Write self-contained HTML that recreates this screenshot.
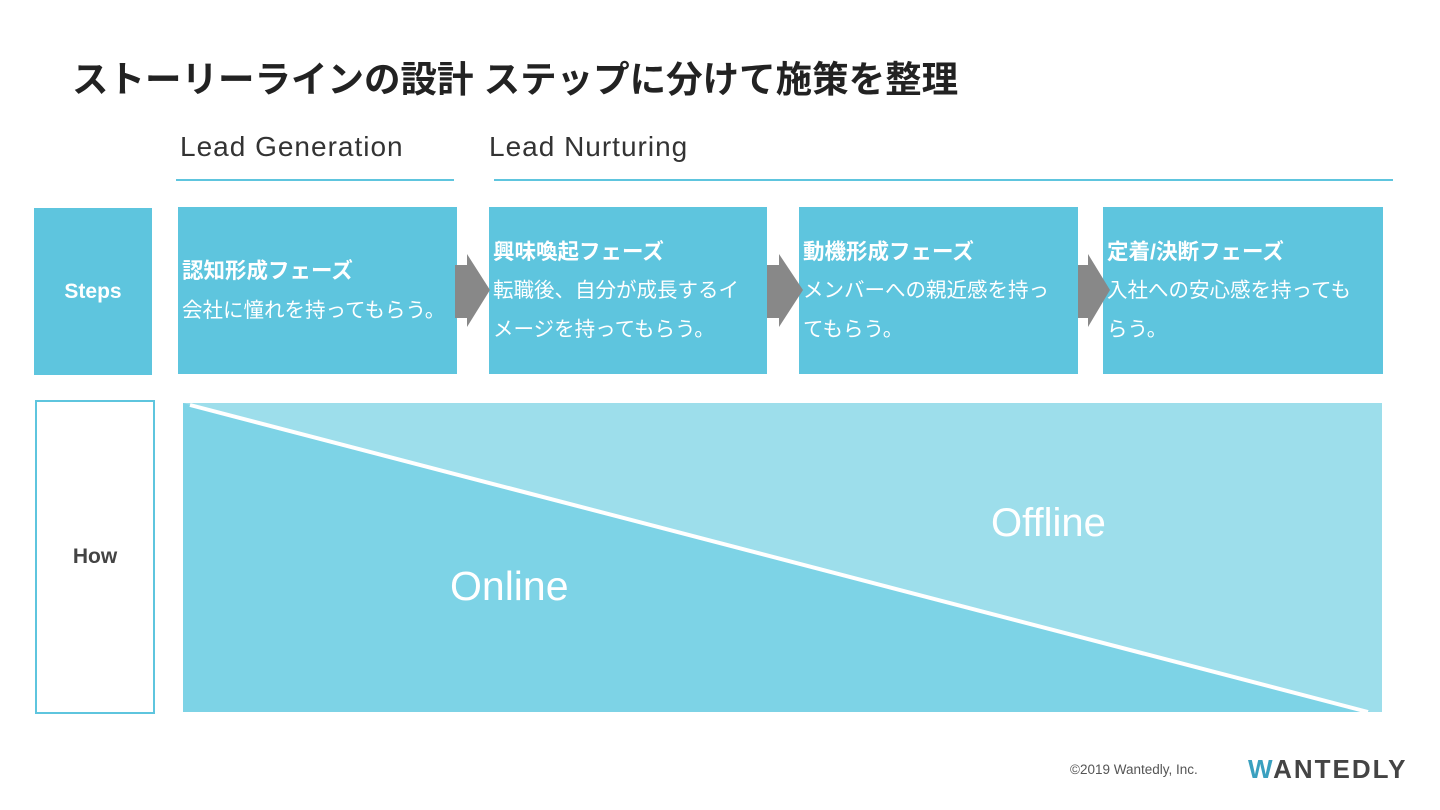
<!DOCTYPE html>
<html><head><meta charset="utf-8"><style>
body{margin:0;width:1440px;height:810px;background:#fff;position:relative;overflow:hidden;font-family:"Liberation Sans","Noto Sans CJK JP",sans-serif}
.a{position:absolute}
.box{position:absolute;background:#5ec5de;color:#fff;top:207px;height:167px}
.box div{position:absolute;left:4px;font-size:20.5px;white-space:nowrap;line-height:40px}
.t{font-weight:bold;font-size:21.5px!important}
</style></head><body>
<div class="a" style="left:72px;top:50px;font-size:36.5px;font-weight:bold;color:#222">ストーリーラインの設計 ステップに分けて施策を整理</div>
<div class="a" style="left:180px;top:131px;font-size:28px;letter-spacing:1px;color:#333">Lead Generation</div>
<div class="a" style="left:489px;top:131px;font-size:28px;letter-spacing:1px;color:#333">Lead Nurturing</div>
<div class="a" style="left:176px;top:179px;width:278px;height:2px;background:#5ec5de"></div>
<div class="a" style="left:494px;top:179px;width:899px;height:2px;background:#5ec5de"></div>
<div class="a" style="left:34px;top:208px;width:118px;height:167px;background:#5ec5de;color:#fff;font-weight:bold;font-size:21px;line-height:167px;text-align:center">Steps</div>
<div class="a" style="left:35px;top:400px;width:116px;height:310px;border:2px solid #5ec5de;color:#444;font-weight:bold;font-size:21px;line-height:310px;text-align:center">How</div>
<div class="box" style="left:178px;width:279px"><div class="t" style="top:44px">認知形成フェーズ</div><div style="top:84px">会社に憧れを持ってもらう。</div></div>
<div class="box" style="left:489px;width:278px"><div class="t" style="top:25px">興味喚起フェーズ</div><div style="top:64px">転職後、自分が成長するイ</div><div style="top:103px">メージを持ってもらう。</div></div>
<div class="box" style="left:799px;width:279px"><div class="t" style="top:25px">動機形成フェーズ</div><div style="top:64px">メンバーへの親近感を持っ</div><div style="top:103px">てもらう。</div></div>
<div class="box" style="left:1103px;width:280px"><div class="t" style="top:25px">定着/決断フェーズ</div><div style="top:64px">入社への安心感を持っても</div><div style="top:103px">らう。</div></div>
<svg class="a" style="left:0;top:0" width="1440" height="810">
<g fill="#888">
<polygon points="455,265 467,265 467,254 490,290 467,327 467,318 455,318"/>
<polygon points="767,265 779,265 779,254 803,290 779,327 779,318 767,318"/>
<polygon points="1078,265 1088,265 1088,254 1110,290 1088,327 1088,318 1078,318"/>
</g>
<rect x="183" y="403" width="1199" height="309" fill="#9ddeeb"/>
<polygon points="183,403 1370,712 183,712" fill="#7dd3e6"/>
<line x1="190" y1="405" x2="1368" y2="712" stroke="#fff" stroke-width="4"/>
</svg>
<div class="a" style="left:450px;top:563px;font-size:41px;color:#fff">Online</div>
<div class="a" style="left:991px;top:501px;font-size:40px;color:#fff">Offline</div>
<div class="a" style="left:1070px;top:762px;font-size:13.5px;color:#555">©2019 Wantedly, Inc.</div>
<div class="a" style="left:1248px;top:754px;font-size:26px;font-weight:bold;color:#444;letter-spacing:2px"><span style="color:#3aa0bf">W</span>ANTEDLY</div>
</body></html>
